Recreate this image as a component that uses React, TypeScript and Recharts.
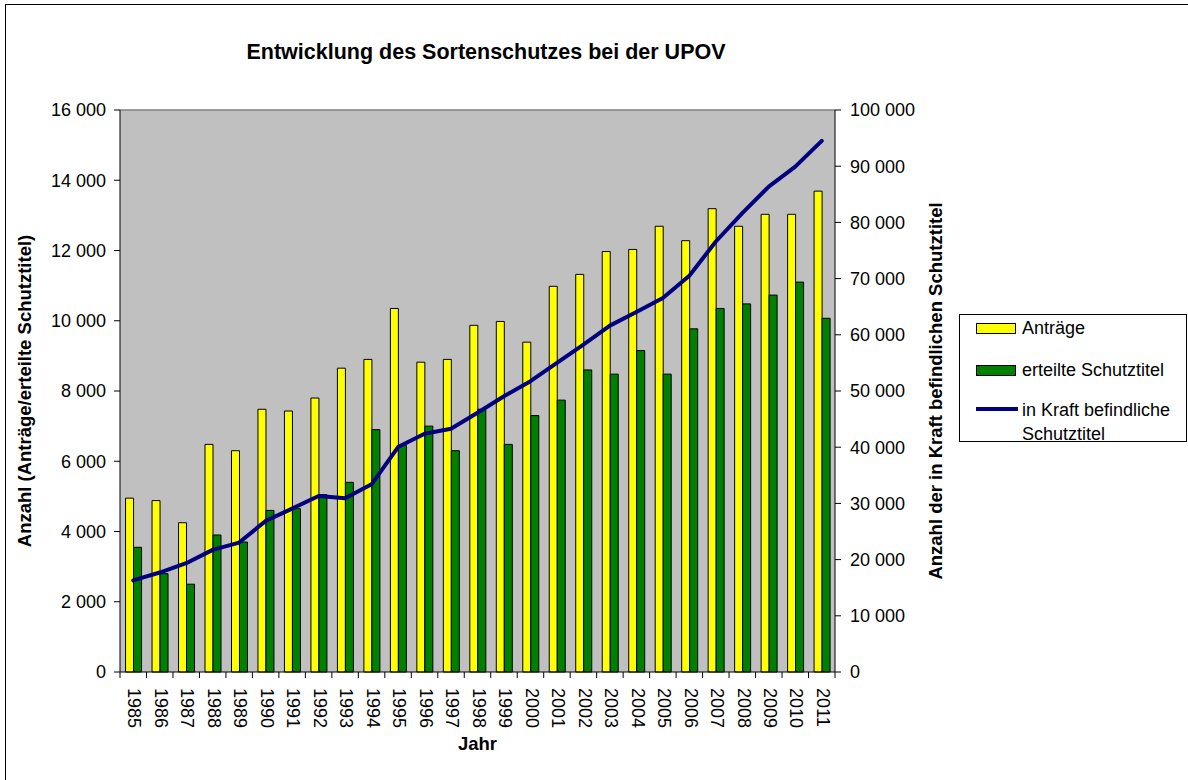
import React from 'react';
import { ComposedChart, Bar, Line, XAxis, YAxis, CartesianGrid, Legend, ReferenceLine } from 'recharts';

const years = ['1985','1986','1987','1988','1989','1990','1991','1992','1993','1994','1995','1996','1997','1998','1999','2000','2001','2002','2003','2004','2005','2006','2007','2008','2009','2010','2011'];
const antraege = [4950, 4880, 4250, 6480, 6300, 7480, 7430, 7800, 8650, 8900, 10350, 8820, 8900, 9870, 9980, 9390, 10980, 11320, 11970, 12030, 12690, 12280, 13190, 12690, 13030, 13030, 13690];
const erteilt = [3550, 2800, 2500, 3900, 3700, 4600, 4650, 5050, 5400, 6900, 6450, 7000, 6300, 7480, 6480, 7300, 7740, 8600, 8480, 9150, 8480, 9770, 10350, 10480, 10730, 11100, 10070];
const inKraft = [16300, 17700, 19360, 21730, 23030, 26880, 29070, 31320, 30900, 33390, 40020, 42390, 43280, 46120, 49070, 51740, 55000, 58250, 61630, 64050, 66540, 70500, 76600, 81640, 86370, 89920, 94500];
const leftTicks = [0, 2000, 4000, 6000, 8000, 10000, 12000, 14000, 16000];
const rightTicks = [0, 10000, 20000, 30000, 40000, 50000, 60000, 70000, 80000, 90000, 100000];

const title = 'Entwicklung des Sortenschutzes bei der UPOV';
const leftTitle = 'Anzahl (Anträge/erteilte Schutztitel)';
const rightTitle = 'Anzahl der in Kraft befindlichen Schutztitel';
const xTitle = 'Jahr';
const names = { a: 'Anträge', e: 'erteilte Schutztitel', k1: 'in Kraft befindliche', k2: 'Schutztitel' };

const data = years.map((y, i) => ({ year: y, antraege: antraege[i], erteilt: erteilt[i], inKraft: inKraft[i] }));

const FONT = '"Liberation Sans", Arial, sans-serif';
const fmt = (v: number) => String(v).replace(/\B(?=(\d{3})+(?!\d))/g, ' ');

const W = 1188;
const H = 780;
const PLOT_LEFT = 120;
const PLOT_RIGHT = 835;
const PLOT_TOP = 110;
const PLOT_BOTTOM = 672;
const LEFT_AXIS_W = 120;
const RIGHT_AXIS_W = 110;
const X_AXIS_H = 70;
const HALF_BAND = (PLOT_RIGHT - PLOT_LEFT) / years.length / 2;

const XTick = (props: any) => {
  const { x, y, payload, index } = props;
  const lines = [
    <line key="l" x1={x - HALF_BAND} x2={x - HALF_BAND} y1={y - 10} y2={y - 4} stroke="#000" strokeWidth={1} />,
  ];
  if (index === years.length - 1) {
    lines.push(<line key="r" x1={x + HALF_BAND} x2={x + HALF_BAND} y1={y - 10} y2={y - 4} stroke="#000" strokeWidth={1} />);
  }
  return (
    <g>
      {lines}
      <g transform={`translate(${x + 1.5},${y + 6})`}>
        <text transform="rotate(90)" x={0} y={0} dy="0.35em" textAnchor="start" fontSize={18} fontFamily={FONT} fill="#000">
          {payload.value}
        </text>
      </g>
    </g>
  );
};

const LegendBox = () => (
  <div
    style={{
      width: 226,
      height: 126,
      border: '1px solid #000',
      background: '#fff',
      fontFamily: FONT,
      fontSize: 18,
      color: '#000',
      position: 'relative',
    }}
  >
    <div style={{ position: 'absolute', left: 16, top: 8, width: 38, height: 9, background: '#FFFF00', border: '1px solid #000' }} />
    <div style={{ position: 'absolute', left: 62, top: 2, lineHeight: '22px' }}>{names.a}</div>
    <div style={{ position: 'absolute', left: 16, top: 50, width: 38, height: 9, background: '#008000', border: '1px solid #000' }} />
    <div style={{ position: 'absolute', left: 62, top: 44, lineHeight: '22px' }}>{names.e}</div>
    <div style={{ position: 'absolute', left: 16, top: 92, width: 42, height: 4, background: '#000080' }} />
    <div style={{ position: 'absolute', left: 62, top: 83, lineHeight: '24px' }}>
      {names.k1}
      <br />
      {names.k2}
    </div>
  </div>
);

export default function App() {
  return (
    <div style={{ position: 'absolute', left: 0, top: 0, width: W, height: H, overflow: 'hidden', background: '#fff' }}>
      <div style={{ position: 'absolute', left: 5, top: 4, width: 2000, height: 2000, borderLeft: '1.5px solid #000', borderTop: '1.5px solid #000' }} />
      <div
        style={{
          position: 'absolute',
          left: 0,
          width: 972,
          top: 38,
          textAlign: 'center',
          fontFamily: FONT,
          fontWeight: 'bold',
          fontSize: 21.5,
          lineHeight: '28px',
          color: '#000',
        }}
      >
        {title}
      </div>
      <div style={{ position: 'absolute', left: 0, top: 0 }}>
        <ComposedChart
          width={W}
          height={H}
          data={data}
          margin={{ top: PLOT_TOP, left: PLOT_LEFT - LEFT_AXIS_W, right: W - PLOT_RIGHT - RIGHT_AXIS_W, bottom: H - PLOT_BOTTOM - X_AXIS_H }}
          barCategoryGap="21%"
          barGap={0}
        >
          <CartesianGrid fill="#C0C0C0" horizontal={false} vertical={false} yAxisId="left" />
          <ReferenceLine yAxisId="left" y={16000} stroke="#808080" strokeWidth={1.5} />
          <XAxis
            dataKey="year"
            height={X_AXIS_H}
            axisLine={{ stroke: '#000', strokeWidth: 1 }}
            tickLine={false}
            tickSize={6}
            tickMargin={4}
            interval={0}
            tick={<XTick />}
            label={{
              content: (p: any) => {
                const vb = p.viewBox || {};
                return (
                  <text x={vb.x + vb.width / 2} y={vb.y + 78} textAnchor="middle" fontSize={18.5} fontWeight="bold" fontFamily={FONT} fill="#000">
                    {xTitle}
                  </text>
                );
              },
            }}
          />
          <YAxis
            yAxisId="left"
            orientation="left"
            width={LEFT_AXIS_W}
            domain={[0, 16000]}
            ticks={leftTicks}
            tickFormatter={fmt}
            interval={0}
            axisLine={{ stroke: '#000', strokeWidth: 1 }}
            tickLine={{ stroke: '#000', strokeWidth: 1 }}
            tickSize={6}
            tickMargin={8}
            tick={{ fontSize: 18, fontFamily: FONT, fill: '#000' }}
            label={{
              content: (p: any) => {
                const vb = p.viewBox || {};
                const cx = vb.x + 24;
                const cy = vb.y + vb.height / 2;
                return (
                  <text x={cx} y={cy} transform={`rotate(-90, ${cx}, ${cy})`} textAnchor="middle" dominantBaseline="central" fontSize={18.5} fontWeight="bold" fontFamily={FONT} fill="#000">
                    {leftTitle}
                  </text>
                );
              },
            }}
          />
          <YAxis
            yAxisId="right"
            orientation="right"
            width={RIGHT_AXIS_W}
            domain={[0, 100000]}
            ticks={rightTicks}
            tickFormatter={fmt}
            interval={0}
            axisLine={{ stroke: '#000', strokeWidth: 1 }}
            tickLine={{ stroke: '#000', strokeWidth: 1 }}
            tickSize={6}
            tickMargin={9}
            tick={{ fontSize: 18, fontFamily: FONT, fill: '#000' }}
            label={{
              content: (p: any) => {
                const vb = p.viewBox || {};
                const cx = vb.x + 100;
                const cy = vb.y + vb.height / 2;
                return (
                  <text x={cx} y={cy} transform={`rotate(-90, ${cx}, ${cy})`} textAnchor="middle" dominantBaseline="central" fontSize={18.5} fontWeight="bold" fontFamily={FONT} fill="#000">
                    {rightTitle}
                  </text>
                );
              },
            }}
          />
          <Legend
            layout="vertical"
            align="center"
            verticalAlign="middle"
            content={() => <LegendBox />}
            wrapperStyle={{ position: 'absolute', left: 959, top: 314, width: 228, height: 128 }}
          />
          <Bar yAxisId="left" dataKey="antraege" name={names.a} fill="#FFFF00" stroke="#000" strokeWidth={1} isAnimationActive={false} />
          <Bar yAxisId="left" dataKey="erteilt" name={names.e} fill="#008000" stroke="#000" strokeWidth={1} isAnimationActive={false} />
          <Line
            yAxisId="right"
            type="linear"
            dataKey="inKraft"
            name={names.k1}
            stroke="#000080"
            strokeWidth={4}
            strokeLinejoin="round"
            strokeLinecap="round"
            dot={false}
            activeDot={false}
            isAnimationActive={false}
          />
        </ComposedChart>
      </div>
    </div>
  );
}
